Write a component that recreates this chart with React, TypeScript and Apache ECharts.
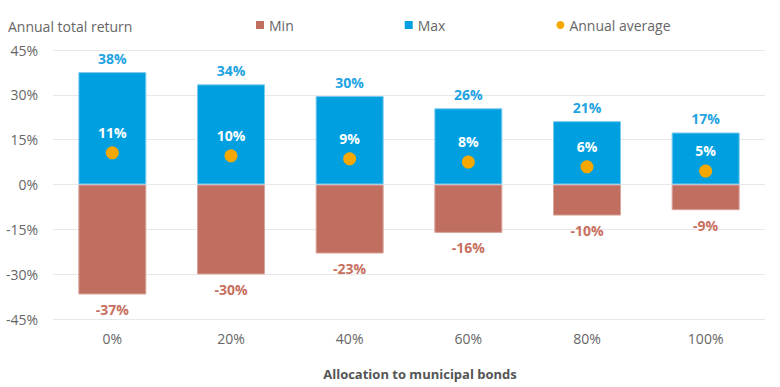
import React, { useEffect, useRef } from "react";
import * as echarts from "echarts";

const categories = ["0%", "20%", "40%", "60%", "80%", "100%"];
const minValues = [-36.8, -30.1, -23.1, -16.2, -10.4, -8.6];
const maxValues = [37.6, 33.5, 29.6, 25.5, 21.2, 17.4];
const avgValues = [10.6, 9.6, 8.6, 7.5, 5.9, 4.5];
const yTicks = { min: -45, max: 45, interval: 15 };

const FONT = "'Open Sans', 'Noto Sans', sans-serif";
const BLUE = "#009FDF";
const RED = "#C06E60";
const ORANGE = "#F7A800";
const GRAY = "#666666";

export default function App() {
  const ref = useRef<HTMLDivElement>(null);
  useEffect(() => {
    if (!ref.current) return;
    const chart = echarts.init(ref.current, undefined, { renderer: "svg" });
    const pct = (p: any) => `${Math.round(p.value)}%`;
    chart.setOption({
      animation: false,
      textStyle: { fontFamily: FONT },
      grid: { left: 53, right: 15, top: 50, bottom: 68, containLabel: false },
      title: [
        {
          text: "Annual total return",
          left: 3,
          top: 14,
          textStyle: { fontFamily: FONT, fontSize: 14, fontWeight: "normal", color: GRAY },
        },
        {
          text: "Allocation to municipal bonds",
          left: 415,
          textAlign: "center",
          top: 362,
          textStyle: { fontFamily: FONT, fontSize: 13, fontWeight: "bold", color: "#555" },
        },
      ],
      legend: {
        left: 256,
        top: 18,
        padding: 0,
        itemGap: 111,
        itemWidth: 8,
        itemHeight: 8,
        textStyle: { fontFamily: FONT, fontSize: 14, color: GRAY },
        data: [
          { name: "Min", icon: "rect", itemStyle: { color: RED, borderWidth: 0 } },
          { name: "Max", icon: "rect", itemStyle: { color: BLUE, borderWidth: 0 } },
          { name: "Annual average", icon: "circle", itemStyle: { color: ORANGE, borderWidth: 0, opacity: 1 } },
        ],
      },
      xAxis: {
        type: "category",
        data: categories,
        axisLine: { show: false },
        axisTick: { show: false },
        axisLabel: { margin: 12, fontFamily: FONT, fontSize: 14, color: GRAY },
      },
      yAxis: {
        type: "value",
        min: yTicks.min,
        max: yTicks.max,
        interval: yTicks.interval,
        axisLine: { show: false },
        axisTick: { show: false },
        axisLabel: { margin: 15, fontFamily: FONT, fontSize: 14, color: GRAY, formatter: (v: number) => `${v}%` },
        splitLine: { lineStyle: { color: "#e8e8e8", width: 1 } },
      },
      series: [
        {
          name: "Min",
          type: "bar",
          stack: "r",
          barWidth: 68,
          data: minValues,
          itemStyle: { color: RED, borderColor: "#d9a59b", borderWidth: 1 },
          label: {
            show: true,
            position: "bottom",
            distance: 8,
            formatter: pct,
            fontFamily: FONT,
            fontSize: 14,
            fontWeight: "bold",
            color: "#C8705F",
          },
        },
        {
          name: "Max",
          type: "bar",
          stack: "r",
          barWidth: 68,
          data: maxValues,
          itemStyle: { color: BLUE, borderColor: "#7ccbee", borderWidth: 1 },
          label: {
            show: true,
            position: "top",
            distance: 7,
            formatter: pct,
            fontFamily: FONT,
            fontSize: 14,
            fontWeight: "bold",
            color: "#1FA3E2",
          },
        },
        {
          name: "Annual average",
          type: "scatter",
          data: avgValues,
          symbol: "circle",
          symbolSize: 13,
          itemStyle: { color: ORANGE, opacity: 1 },
          z: 5,
          label: {
            show: true,
            position: "top",
            distance: 7,
            formatter: pct,
            fontFamily: FONT,
            fontSize: 14,
            fontWeight: "bold",
            color: "#ffffff",
          },
        },
      ],
    });
    return () => chart.dispose();
  }, []);
  return (
    <div
      ref={ref}
      style={{ position: "fixed", left: 0, top: 0, width: 780, height: 387, background: "#fff" }}
    />
  );
}
